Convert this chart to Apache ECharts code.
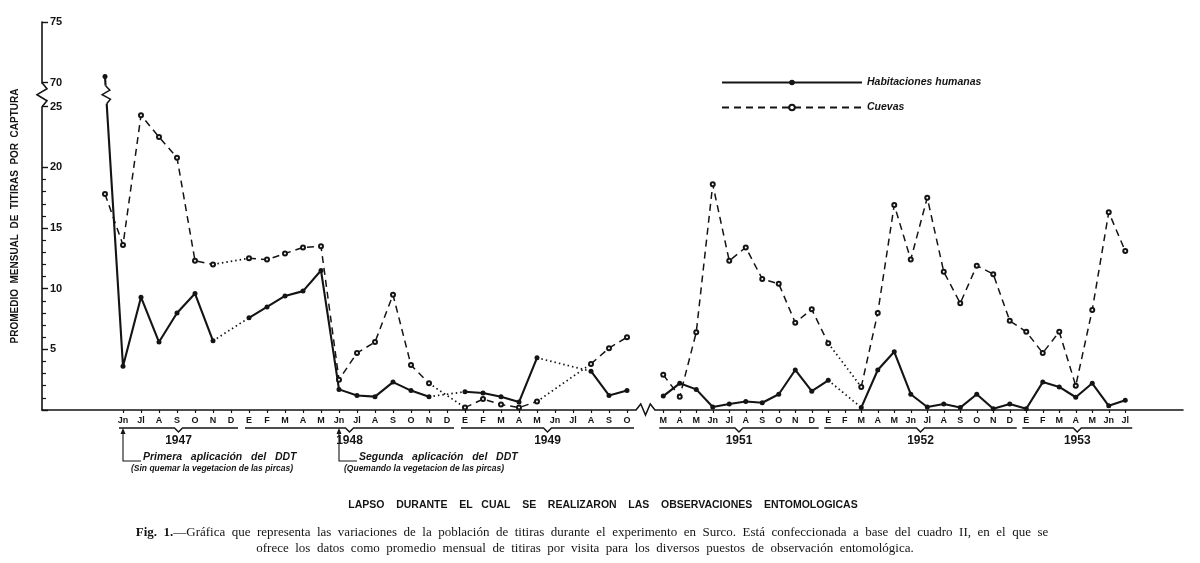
<!DOCTYPE html>
<html><head><meta charset="utf-8">
<script src="https://cdn.jsdelivr.net/npm/echarts@6/dist/echarts.min.js"></script>
<style>html,body{margin:0;padding:0;background:#fff}#c{width:1200px;height:563px}</style>
</head><body><div id="c"></div>
<script>
// ---------------- DATA ----------------
// Period A: May 1947 – Oct 1949 (May 1947 is unlabeled in the original)
const monthsA = ['', 'Jn','Jl','A','S','O','N','D', 'E','F','M','A','M','Jn','Jl','A','S','O','N','D', 'E','F','M','A','M','Jn','Jl','A','S','O'];
const habitA  = [70.5, 3.6, 9.3, 5.6, 8.0, 9.6, 5.7, null, 7.6, 8.5, 9.4, 9.8, 11.5, 1.7, 1.2, 1.1, 2.3, 1.6, 1.1, null, 1.5, 1.4, 1.1, 0.65, 4.3, null, null, 3.2, 1.2, 1.6];
const cuevasA = [17.8, 13.6, 24.3, 22.5, 20.8, 12.3, 12.0, null, 12.5, 12.4, 12.9, 13.4, 13.5, 2.5, 4.7, 5.6, 9.5, 3.7, 2.2, null, 0.2, 0.9, 0.45, 0.2, 0.7, null, null, 3.8, 5.1, 6.0];
// Period B: Mar 1951 – Jul 1953
const monthsB = ['M','A','M','Jn','Jl','A','S','O','N','D', 'E','F','M','A','M','Jn','Jl','A','S','O','N','D', 'E','F','M','A','M','Jn','Jl'];
const habitB  = [1.15, 2.2, 1.7, 0.25, 0.5, 0.7, 0.6, 1.3, 3.3, 1.55, 2.45, null, 0.2, 3.3, 4.8, 1.3, 0.25, 0.5, 0.2, 1.3, 0.1, 0.5, 0.1, 2.3, 1.9, 1.05, 2.2, 0.35, 0.8];
const cuevasB = [2.9, 1.1, 6.4, 18.6, 12.3, 13.4, 10.8, 10.4, 7.2, 8.3, 5.5, null, 1.9, 8.0, 16.9, 12.4, 17.5, 11.4, 8.8, 11.9, 11.2, 7.35, 6.45, 4.7, 6.45, 2.0, 8.25, 16.3, 13.1];
// year groups: [label, first month index, last month index]
const yearsA = [['1947', 1, 7], ['1948', 8, 19], ['1949', 20, 29]];
const yearsB = [['1951', 0, 9], ['1952', 10, 21], ['1953', 22, 28]];
const yRange = [0, 75];
const yBreak = [25, 70];
const seriesNames = ['Habitaciones humanas', 'Cuevas'];
const yTitle = 'PROMEDIO  MENSUAL  DE  TITIRAS  POR  CAPTURA';
const xTitle = 'LAPSO    DURANTE    EL   CUAL    SE    REALIZARON    LAS    OBSERVACIONES    ENTOMOLOGICAS';
const caption1a = 'Fig.  1.';
const caption1b = '—Gráfica  que  representa  las  variaciones  de  la  población  de  titiras  durante  el  experimento  en  Surco.  Está  confeccionada  a  base  del  cuadro  II,  en  el  que  se';
const caption2 = 'ofrece  los  datos  como  promedio  mensual  de  titiras  por  visita  para  los  diversos  puestos  de  observación  entomológica.';
const note1 = ['Primera   aplicación   del   DDT', '(Sin quemar la vegetacion de las pircas)'];
const note2 = ['Segunda   aplicación   del   DDT', '(Quemando la vegetacion de las pircas)'];

// ---------------- BUILD ----------------
const padA = 3, padB = 3;
const catA = Array(padA).fill('').concat(monthsA);
const catB = monthsB.concat(Array(padB).fill(''));
const padL = (arr, n) => Array(n).fill(null).concat(arr);
const padR = (arr, n) => arr.concat(Array(n).fill(null));

const INK = '#141414';
const sans = '"Liberation Sans", Arial, sans-serif';
const serif = '"Liberation Serif", "DejaVu Serif", serif';

function bridges(arr) { // one dotted series per missing-month gap
  const out = [];
  for (let i = 0; i < arr.length; i++) {
    if (arr[i] == null) {
      let j = i; while (j < arr.length && arr[j] == null) j++;
      if (i > 0 && j < arr.length) {
        const d = arr.map(() => null); d[i - 1] = arr[i - 1]; d[j] = arr[j]; out.push(d);
      }
      i = j;
    }
  }
  return out;
}

const chart = echarts.init(document.getElementById('c'), null, {renderer: 'canvas'});

function yAxisCfg(show) {
  return {
    type: 'value', gridIndex: show ? 0 : 1, min: yRange[0], max: yRange[1], interval: 5, show: show,
    breaks: [{start: yBreak[0], end: yBreak[1], gap: '6.2%'}],
    breakArea: {show: false, expandOnClick: false},
    axisLine: {show: true, lineStyle: {color: INK, width: 1.6}},
    axisTick: {show: true, inside: true, length: 6, lineStyle: {color: INK, width: 1.4}},
    minorTick: {show: true, splitNumber: 5, length: 4, lineStyle: {color: INK, width: 1.2}},
    splitLine: {show: false},
    axisLabel: {inside: true, margin: 8, color: INK, fontFamily: sans, fontWeight: 'bold', fontSize: 11,
      formatter: v => (v === 0 ? '' : String(v))},
    name: show ? yTitle : '', nameLocation: 'middle', nameGap: 22,
    nameTextStyle: {fontFamily: sans, fontWeight: 'bold', fontSize: 10, color: INK}
  };
}
function xAxisCfg(gi, cats) {
  return {
    type: 'category', gridIndex: gi, data: cats, boundaryGap: true,
    axisLine: {show: true, lineStyle: {color: INK, width: 1.6}},
    axisTick: {show: true, alignWithLabel: true, length: 3, lineStyle: {color: INK, width: 1.2},
      interval: (i, v) => v !== ''},
    axisLabel: {interval: 0, margin: 6, color: INK, fontFamily: sans, fontWeight: 'bold', fontSize: 9}
  };
}

const series = [];
function addPeriod(xi, hab, cue) {
  series.push({name: seriesNames[0], type: 'line', xAxisIndex: xi, yAxisIndex: xi, data: hab,
    connectNulls: false, symbol: 'circle', symbolSize: 5, showSymbol: true,
    itemStyle: {color: INK}, lineStyle: {color: INK, width: 2.1, type: 'solid'}, z: 3});
  series.push({name: seriesNames[1], type: 'line', xAxisIndex: xi, yAxisIndex: xi, data: cue,
    connectNulls: false, symbol: 'emptyCircle', symbolSize: 4, showSymbol: true,
    itemStyle: {color: INK, borderWidth: 1.1},
    lineStyle: {color: INK, width: 1.5, type: [7, 5]}, z: 4});
  bridges(hab).concat(bridges(cue)).forEach((d, k) => series.push({
    name: 'gap' + xi + '_' + k, type: 'line', xAxisIndex: xi, yAxisIndex: xi, data: d,
    connectNulls: true, symbol: 'none', silent: true,
    lineStyle: {color: INK, width: 1.7, type: [1.5, 3]}, z: 1}));
}
addPeriod(0, padL(habitA, padA), padL(cuevasA, padA));
addPeriod(1, padR(habitB, padB), padR(cuevasB, padB));

const wA = 18, wB = 16.5, gridTop = 22, gridBottom = 153;
chart.setOption({
  animation: false,
  backgroundColor: '#fff',
  textStyle: {fontFamily: sans},
  grid: [
    {left: 42, top: gridTop, width: catA.length * wA, bottom: gridBottom, outerBoundsMode: 'none', containLabel: false},
    {left: 655, top: gridTop, width: catB.length * wB, bottom: gridBottom, outerBoundsMode: 'none', containLabel: false}
  ],
  xAxis: [xAxisCfg(0, catA), xAxisCfg(1, catB)],
  yAxis: [yAxisCfg(true), yAxisCfg(false)],
  legend: {
    data: seriesNames, orient: 'vertical', left: 716, top: 72, itemWidth: 140, itemHeight: 7, itemGap: 14,
    textStyle: {fontFamily: sans, fontStyle: 'italic', fontWeight: 'bold', fontSize: 10.5, color: INK},
    selectedMode: false
  },
  series: series
});

// ---------------- DECORATION (computed from axes) ----------------
const g = [];
const px = (xi, idx) => chart.convertToPixel({xAxisIndex: xi}, idx);
const yPix = v => chart.convertToPixel({yAxisIndex: 0}, v);
const y0 = yPix(0), y25 = yPix(yBreak[0]), y70 = yPix(yBreak[1]);
const ax = 42;
// y axis break zigzag
g.push({type: 'rect', shape: {x: ax - 3, y: y70 + 2, width: 6, height: y25 - y70 - 4}, style: {fill: '#fff'}, z: 50});
(function () {
  const pts = [[ax, y70]]; const h = y25 - y70; const n = 4;
  for (let k = 1; k < n; k++) pts.push([ax + (k % 2 ? 5 : -5), y70 + h * k / n]);
  pts.push([ax, y25]);
  g.push({type: 'polyline', shape: {points: pts}, style: {stroke: INK, lineWidth: 1.6, fill: null}, z: 51});
})();
// zigzag on the first (off-scale) segment of the human-dwelling series
(function () {
  const p1 = chart.convertToPixel({xAxisIndex: 0, yAxisIndex: 0}, [padA, habitA[0]]);
  const p2 = chart.convertToPixel({xAxisIndex: 0, yAxisIndex: 0}, [padA + 1, habitA[1]]);
  const xa = y => p1[0] + (p2[0] - p1[0]) * (y - p1[1]) / (p2[1] - p1[1]);
  const ya = y70 + 3, yb = y25 - 3;
  g.push({type: 'rect', shape: {x: xa(ya) - 4, y: ya, width: 8 + xa(yb) - xa(ya), height: yb - ya}, style: {fill: '#fff'}, z: 50});
  const pts = [[xa(ya), ya]]; const n = 4;
  for (let k = 1; k < n; k++) { const yy = ya + (yb - ya) * k / n; pts.push([xa(yy) + (k % 2 ? 4 : -4), yy]); }
  pts.push([xa(yb), yb]);
  g.push({type: 'polyline', shape: {points: pts}, style: {stroke: INK, lineWidth: 1.5, fill: null}, z: 51});
})();
// x axis break zigzag between the two periods
(function () {
  const xL = 42 + catA.length * wA, xR = 655;
  const pts = [[xL, y0]]; const n = 4;
  for (let k = 1; k < n; k++) pts.push([xL + (xR - xL) * k / n, y0 + (k % 2 ? -6 : 5)]);
  pts.push([xR, y0]);
  g.push({type: 'polyline', shape: {points: pts}, style: {stroke: INK, lineWidth: 1.5, fill: null}, z: 51});
})();
// year braces
function years(xi, list, pad) {
  list.forEach(([lab, a, b]) => {
    const xa = px(xi, a + pad) - 4, xb = px(xi, b + pad) + 7, xm = (xa + xb) / 2, yl = y0 + 18;
    g.push({type: 'polyline', shape: {points: [[xa, yl], [xm - 4, yl], [xm, yl + 4], [xm + 4, yl], [xb, yl]]},
      style: {stroke: INK, lineWidth: 1.4, fill: null}});
    g.push({type: 'text', x: xm, y: y0 + 31, style: {text: lab, fill: INK, font: 'bold 12px ' + sans, textAlign: 'center', textVerticalAlign: 'middle'}});
  });
}
years(0, yearsA, padA);
years(1, yearsB, 0);
// DDT application notes
function note(idx, txt, subOffset) {
  const x = px(0, idx + padA), yTop = y0 + 18, yLow = y0 + 51;
  g.push({type: 'polyline', shape: {points: [[x, yTop + 2], [x, yLow], [x + 18, yLow]]}, style: {stroke: INK, lineWidth: 1.1, fill: null}});
  g.push({type: 'polygon', shape: {points: [[x, yTop], [x - 2.5, yTop + 6], [x + 2.5, yTop + 6]]}, style: {fill: INK}});
  g.push({type: 'text', x: x + 20, y: yLow - 4, style: {text: txt[0], fill: INK, font: 'italic bold 10.5px ' + sans, textVerticalAlign: 'middle'}});
  g.push({type: 'text', x: x + subOffset, y: yLow + 8, style: {text: txt[1], fill: INK, font: 'italic bold 8.5px ' + sans, textVerticalAlign: 'middle'}});
}
note(1, note1, 8);
note(13, note2, 5);
// titles / caption
g.push({type: 'text', x: 603, y: 505, style: {text: xTitle, fill: INK, font: 'bold 10.5px ' + sans, textAlign: 'center', textVerticalAlign: 'middle'}});
g.push({type: 'text', x: 592, y: 533, style: {
  text: '{b|' + caption1a + '}{n|' + caption1b + '}', textAlign: 'center', textVerticalAlign: 'middle',
  rich: {b: {font: 'bold 13px ' + serif, fill: INK}, n: {font: '13px ' + serif, fill: INK}}}});
g.push({type: 'text', x: 585, y: 549, style: {text: caption2, fill: INK, font: '13px ' + serif, textAlign: 'center', textVerticalAlign: 'middle'}});
chart.setOption({graphic: g});
</script>
</body></html>
